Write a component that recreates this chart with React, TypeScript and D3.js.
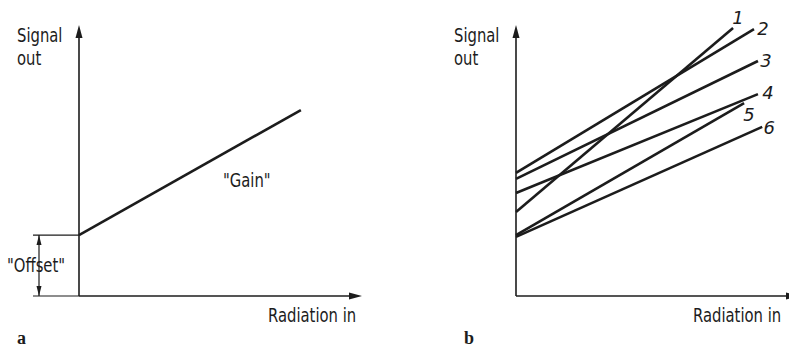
import React from 'react'
import * as d3 from 'd3'

// panel a: single sensor line (radiation in -> signal out), domain 0..100
const gainX = [0, 78.4]
const gainY = [22.5, 68.6]
const offsetValue = 22.5

// panel b: six sensors with different offset and gain
const curveLabels = ['1', '2', '3', '4', '5', '6']
const curveStartY = [31.0, 45.4, 43.2, 38.0, 22.5, 21.8]
const curveEndX = [76.7, 84.1, 85.5, 85.5, 80.6, 87.0]
const curveEndY = [98.9, 98.5, 86.7, 74.5, 71.2, 62.4]
// label offsets in px from the line end (layout only)
const labelDx = [5, 9, 8, 10, 5, 7]
const labelDy = [-10, -1, -1, -2, 11, 1]

const W = 789
const H = 350
const ink = '#1c1c1c'
const font = '"DejaVu Sans", sans-serif'
const narrow = 0.78 // horizontal squeeze to mimic the condensed drafting lettering

const yScale = d3.scaleLinear().domain([0, 100]).range([296, 25])
const xA = d3.scaleLinear().domain([0, 100]).range([79, 362])
const xB = d3.scaleLinear().domain([0, 100]).range([516, 799])

function Narrow({ x, y, children }: { x: number; y: number; children: React.ReactNode }) {
    return (
        <g transform={`translate(${x},${y}) scale(${narrow},1)`}>
            <text x={0} y={0} fill={ink} fontFamily={font} fontSize={19}>{children}</text>
        </g>
    )
}

function Axes({ x }: { x: d3.ScaleLinear<number, number> }) {
    const x0 = x(0)
    const x1 = x(100)
    const y0 = yScale(0)
    const y1 = yScale(100)
    return (
        <g>
            <line x1={x0} y1={y0} x2={x0} y2={y1 + 10} stroke={ink} strokeWidth={1.6} />
            <line x1={x0} y1={y0} x2={x1 - 10} y2={y0} stroke={ink} strokeWidth={1.6} />
            <path d={`M${x0},${y1} L${x0 - 3.5},${y1 + 13} L${x0 + 3.5},${y1 + 13} Z`} fill={ink} />
            <path d={`M${x1},${y0} L${x1 - 13},${y0 - 3.5} L${x1 - 13},${y0 + 3.5} Z`} fill={ink} />
        </g>
    )
}

function AxisTitles({ x, shift = 0 }: { x: d3.ScaleLinear<number, number>; shift?: number }) {
    const x0 = x(0)
    return (
        <g>
            <Narrow x={x0 - 62} y={42}>Signal</Narrow>
            <Narrow x={x0 - 62} y={65}>out</Narrow>
            <Narrow x={x0 + 189 - shift} y={322}>Radiation in</Narrow>
        </g>
    )
}

export default function App() {
    const line = d3.line<[number, number]>()

    const gainPts: [number, number][] = gainX.map((v, i) => [xA(v), yScale(gainY[i])])

    const yOff0 = yScale(0)
    const yOff1 = yScale(offsetValue)
    const bx = 39

    return (
        <svg width={W} height={H} style={{ position: 'absolute', left: 0, top: 0, background: '#fff' }}>
            {/* panel a */}
            <Axes x={xA} />
            <AxisTitles x={xA} />
            <path d={line(gainPts) || ''} fill="none" stroke={ink} strokeWidth={2.6} />
            <Narrow x={223} y={187}>"Gain"</Narrow>

            {/* offset dimension */}
            <line x1={33} y1={yOff1} x2={xA(0)} y2={yOff1} stroke={ink} strokeWidth={1.2} />
            <line x1={33} y1={yOff0} x2={xA(0)} y2={yOff0} stroke={ink} strokeWidth={1.2} />
            <line x1={bx} y1={yOff1} x2={bx} y2={yOff0} stroke={ink} strokeWidth={1.2} />
            <path d={`M${bx},${yOff1} L${bx - 2.5},${yOff1 + 10} L${bx + 2.5},${yOff1 + 10} Z`} fill={ink} />
            <path d={`M${bx},${yOff0} L${bx - 2.5},${yOff0 - 10} L${bx + 2.5},${yOff0 - 10} Z`} fill={ink} />
            <Narrow x={7} y={272}>"Offset"</Narrow>

            <text x={17} y={344} fill={ink} fontFamily="'Liberation Serif', serif" fontWeight="bold" fontSize={18}>a</text>

            {/* panel b */}
            <Axes x={xB} />
            <AxisTitles x={xB} shift={12} />
            {curveLabels.map((lab, i) => {
                const pts: [number, number][] = [
                    [xB(0), yScale(curveStartY[i])],
                    [xB(curveEndX[i]), yScale(curveEndY[i])],
                ]
                return (
                    <g key={lab}>
                        <path d={line(pts) || ''} fill="none" stroke={ink} strokeWidth={2.6} />
                        <text
                            x={xB(curveEndX[i]) + labelDx[i]}
                            y={yScale(curveEndY[i]) + labelDy[i]}
                            textAnchor="middle"
                            dominantBaseline="central"
                            fill={ink}
                            fontFamily={font}
                            fontStyle="italic"
                            fontSize={18}
                        >
                            {lab}
                        </text>
                    </g>
                )
            })}
            <text x={464} y={344} fill={ink} fontFamily="'Liberation Serif', serif" fontWeight="bold" fontSize={18}>b</text>
        </svg>
    )
}
